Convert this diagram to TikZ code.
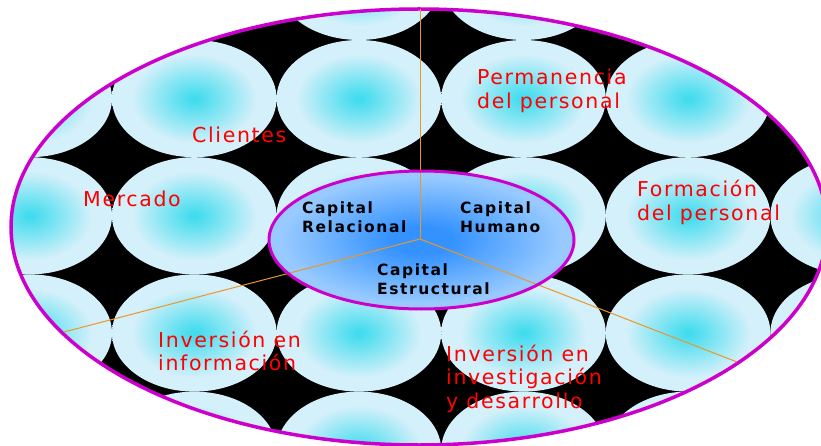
\documentclass[tikz,border=0pt]{standalone}
\usepackage{fontspec}
\setmainfont{DejaVu Sans}
\newfontfamily\lblfont[LetterSpace=8]{DejaVu Sans}
\newfontfamily\capfont[LetterSpace=10]{DejaVu Sans}
\definecolor{cellc}{RGB}{66,220,238}
\definecolor{cellp}{RGB}{212,240,250}
\definecolor{innerc}{RGB}{52,146,255}
\definecolor{innerp}{RGB}{152,202,255}
\definecolor{magen}{RGB}{204,0,204}
\definecolor{orangeln}{RGB}{235,150,40}
\pgfdeclareradialshading{cellsh}{\pgfpoint{0bp}{0bp}}{color(0bp)=(cellc); color(1bp)=(cellc); color(19bp)=(cellp); color(25bp)=(cellp); color(50bp)=(cellp)}
\pgfdeclareradialshading{innersh}{\pgfpoint{0bp}{0bp}}{color(0bp)=(innerc); color(5bp)=(innerc); color(23bp)=(innerp); color(25bp)=(innerp); color(50bp)=(innerp)}
\tikzset{
  redlbl/.style={anchor=base west, inner sep=0pt, text=red, align=left, font=\lblfont\fontsize{20.5}{23.5}\selectfont},
  caplbl/.style={anchor=base west, inner sep=0pt, text=black, align=left, font=\capfont\bfseries\fontsize{15.5}{18.5}\selectfont},
  axis/.style={draw=orangeln, line width=1pt},
  rim/.style={draw=magen, line width=3.5pt},
  innerrim/.style={draw=magen, line width=3pt}
}
\begin{document}
\begin{tikzpicture}[x=1pt,y=-1pt]
\useasboundingbox (0,0) rectangle (821,446);
% outer pattern
\begin{scope}
  \clip (419,227) ellipse [x radius=408pt, y radius=218pt];
  \fill[black] (0,0) rectangle (840,446);
  \foreach \i in {-1,...,5}{
    \foreach \j in {-1,...,4}{
      \shade[shading=cellsh] ({29.7+164.6*\i},{98.6+117.2*\j}) ellipse [x radius=82.3pt, y radius=58.6pt];
    }
  }
\end{scope}
\draw[rim] (419,227) ellipse [x radius=408pt, y radius=218pt];
% inner ellipse
\shade[shading=innersh] (421.5,240) ellipse [x radius=152.5pt, y radius=69pt];
% axes
\coordinate (ctr) at (420,239);
\coordinate (topend) at (420,9);
\coordinate (leftend) at (64,332);
\coordinate (rightend) at (737,362);
\draw[axis] (ctr) -- (topend);
\draw[axis] (ctr) -- (leftend);
\draw[axis] (ctr) -- (rightend);
\draw[innerrim] (421.5,240) ellipse [x radius=152.5pt, y radius=69pt];
% labels (anchor = baseline of last line)
\node[redlbl] (clientes) at (192,143) {Clientes};
\node[redlbl] (mercado) at (83,207) {Mercado};
\node[redlbl] (perm) at (477,108.5) {Permanencia\\del personal};
\node[redlbl] (form) at (637,220.5) {Formación\\del personal};
\node[redlbl] (invinf) at (158,370.5) {Inversión en\\información};
\node[redlbl] (invid) at (446,408) {Inversión en\\investigación\\y desarrollo};
\node[caplbl] (crel) at (302,232.5) {Capital\\Relacional};
\node[caplbl] (chum) at (460,232.5) {Capital\\Humano};
\node[caplbl] (cest) at (377,294) {Capital\\Estructural};
\end{tikzpicture}
\end{document}
